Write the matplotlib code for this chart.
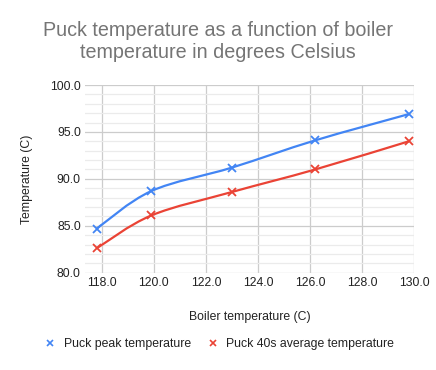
import numpy as np
import matplotlib
matplotlib.use("Agg")
import matplotlib.pyplot as plt
from matplotlib.path import Path
from matplotlib.patches import PathPatch
from matplotlib.lines import Line2D

# Data
boiler_temp = [117.8, 119.9, 123.0, 126.2, 129.8]
puck_peak = [84.7, 88.7, 91.2, 94.1, 96.9]
puck_avg40 = [82.6, 86.1, 88.6, 91.0, 94.0]

series_names = ["Puck peak temperature", "Puck 40s average temperature"]
series_colors = ["#4285F4", "#EA4335"]

plt.rcParams['font.family'] = ['Liberation Sans', 'DejaVu Sans']
FS = 8.8


def smooth_path(xs, ys):
    # cubic bezier through the points, like the spreadsheet's smoothed lines
    xs = np.asarray(xs, float)
    ys = np.asarray(ys, float)
    n = len(xs)
    verts = [(xs[0], ys[0])]
    codes = [Path.MOVETO]
    for i in range(n - 1):
        i0 = max(i - 1, 0)
        i3 = min(i + 2, n - 1)
        c1 = (xs[i] + (xs[i + 1] - xs[i0]) / 6, ys[i] + (ys[i + 1] - ys[i0]) / 6)
        c2 = (xs[i + 1] - (xs[i3] - xs[i]) / 6, ys[i + 1] - (ys[i3] - ys[i]) / 6)
        verts += [c1, c2, (xs[i + 1], ys[i + 1])]
        codes += [Path.CURVE4] * 3
    return Path(verts, codes)


fig = plt.figure(figsize=(4.36, 3.70), dpi=100)
ax = fig.add_axes([85 / 436, 1 - 272.7 / 370, (414 - 85) / 436, (272.7 - 85) / 370])

for ys, color in zip([puck_peak, puck_avg40], series_colors):
    ax.add_patch(PathPatch(smooth_path(boiler_temp, ys), fill=False,
                           edgecolor=color, lw=1.6, zorder=3))
    ax.plot(boiler_temp, ys, linestyle='none', marker='x', color=color,
            markersize=6, markeredgewidth=1.3, zorder=4)

ax.set_xlim(117.35, 130.0)
ax.set_ylim(80, 100)
ax.set_xticks(np.arange(118, 130.1, 2))
ax.set_yticks(np.arange(80, 100.1, 5))
ax.set_yticks(np.arange(80, 100.1, 1), minor=True)
ax.xaxis.set_major_formatter(matplotlib.ticker.FormatStrFormatter('%.1f'))
ax.yaxis.set_major_formatter(matplotlib.ticker.FormatStrFormatter('%.1f'))

ax.grid(which='major', color='#cccccc', lw=0.9)
ax.grid(which='minor', axis='y', color='#ebebeb', lw=0.9)
ax.set_axisbelow(True)
for s in ax.spines.values():
    s.set_visible(False)
ax.tick_params(which='both', length=0, labelsize=FS, colors='#222222', pad=3)

ax.set_xlabel("Boiler temperature (C)", fontsize=FS, color='#222222', labelpad=16)
ax.set_ylabel("Temperature (C)", fontsize=FS, color='#222222', labelpad=12)

fig.text(218 / 436, 1 - 42 / 370,
         "Puck temperature as a function of boiler\ntemperature in degrees Celsius",
         ha='center', va='center', fontsize=14.2, color='#757575', linespacing=1.2)

handles = [Line2D([], [], linestyle='none', marker='x', color=c,
                  markersize=5, markeredgewidth=1.2) for c in series_colors]
fig.legend(handles, series_names, loc='center left', bbox_to_anchor=(33 / 436, 1 - 344 / 370),
           ncol=2, frameon=False, fontsize=FS, handlelength=1.0, handletextpad=0.6,
           columnspacing=1.3, labelcolor='#222222')

fig.savefig("out.png", dpi=100)
